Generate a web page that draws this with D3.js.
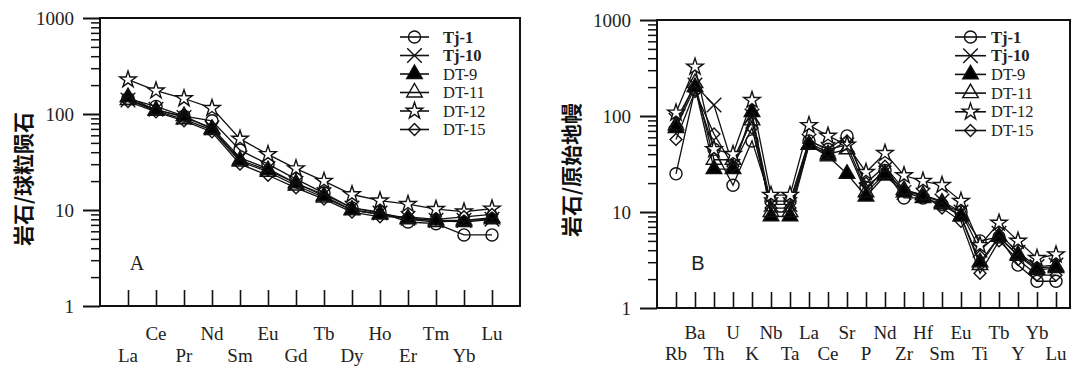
<!DOCTYPE html>
<html>
<head>
<meta charset="utf-8">
<script src="https://cdn.jsdelivr.net/npm/d3@7"></script>
<style>
  html, body { margin: 0; padding: 0; background: #fff; }
  svg { display: block; }
  .tick line { stroke: #111; }
  .num { font-family: "Liberation Serif", "Times New Roman", serif; fill: #222; }
  .cjk { font-family: "Noto Sans CJK SC", sans-serif; font-weight: 700; fill: #111; }
</style>
</head>
<body>
<svg id="chart" width="1078" height="370"></svg>
<script>
// ─── Daten ────────────────────────────────────────────────────────────────────

const samples = ['Tj-1', 'Tj-10', 'DT-9', 'DT-11', 'DT-12', 'DT-15'];
const yTicks  = [1, 10, 100, 1000];

// A: Seltene Erden, chondrit-normiert
const reeElements = ['La', 'Ce', 'Pr', 'Nd', 'Sm', 'Eu', 'Gd', 'Tb', 'Dy', 'Ho', 'Er', 'Tm', 'Yb', 'Lu'];
const reeTj1  = [145, 120, 95, 85, 42, 30, 21, 15, 10.5, 9.5, 7.5, 7.2, 5.5, 5.5];
const reeTj10 = [140, 112, 92, 72, 35, 27, 19, 14.5, 10.5, 9.3, 8.2, 7.8, 7.8, 8.0];
const reeDT9  = [150, 110, 95, 70, 33, 26, 19, 14, 10, 9, 8.2, 7.8, 7.5, 8];
const reeDT11 = [140, 108, 88, 68, 32, 25, 18, 13.5, 10, 9, 8, 7.5, 7.8, 8.3];
const reeDT12 = [228, 175, 145, 115, 55, 38, 27, 20, 14.5, 12.5, 11.5, 10.2, 9.6, 10.3];
const reeDT15 = [135, 105, 85, 65, 30, 23, 17, 13, 9.5, 8.5, 8.5, 8, 8.5, 9];

// B: Spurenelemente, primitiver Mantel
const spiderElements = ['Rb', 'Ba', 'Th', 'U', 'K', 'Nb', 'Ta', 'La', 'Ce', 'Sr', 'P',
                        'Nd', 'Zr', 'Hf', 'Sm', 'Eu', 'Ti', 'Tb', 'Y', 'Yb', 'Lu'];
const spTj1  = [25, 190, 45, 19, 55, 13, 13, 55, 45, 62, 18, 27, 14, 14, 12, 10, 5, 5.5, 2.8, 1.9, 1.9];
const spTj10 = [90, 210, 130, 30, 100, 12, 12, 55, 45, 50, 17, 28, 16, 15, 13, 10, 4, 6, 3.8, 2.7, 2.8];
const spDT9  = [75, 200, 28, 28, 110, 9, 9, 50, 38, 25, 14.5, 24, 16, 14, 12, 9, 3, 5.5, 3.5, 2.5, 2.6];
const spDT11 = [80, 220, 35, 35, 90, 10, 10, 50, 40, 45, 16, 25, 17, 15, 12.5, 9, 2.8, 5.5, 3.6, 2.6, 2.7];
const spDT12 = [108, 325, 45, 40, 146, 15, 15, 80, 62, 50, 26, 41, 24, 21, 19, 13, 4.5, 7.7, 5, 3.3, 3.6];
const spDT15 = [57, 180, 65, 30, 75, 11, 11, 52, 42, 55, 20, 30, 17, 15, 11, 8, 2.3, 5, 3.2, 2.2, 2.2];

// ─── Marker ───────────────────────────────────────────────────────────────────

const markers = {
  'Tj-1':  { path: d3.symbol(d3.symbolCircle, 115)(),   fill: 'none', rot: 0 },
  'Tj-10': { path: d3.symbol(d3.symbolX, 140)(),        fill: 'none', rot: 0 },
  'DT-9':  { path: d3.symbol(d3.symbolTriangle, 105)(), fill: '#000', rot: 0 },
  'DT-11': { path: d3.symbol(d3.symbolTriangle, 105)(), fill: 'none', rot: 0 },
  'DT-12': { path: d3.symbol(d3.symbolStar, 85)(),      fill: '#fff', rot: 0 },
  'DT-15': { path: d3.symbol(d3.symbolSquare, 70)(),    fill: 'none', rot: 45 },
};

const svg = d3.select('#chart');

function drawPanel(cfg) {
  const g = svg.append('g');

  const x = d3.scaleLinear().domain([0, cfg.elements.length - 1]).range([cfg.x0, cfg.x1]);
  const y = d3.scaleLog().domain([1, 1000]).range([cfg.bottom, cfg.top]);

  // Minor-Ticks (nach außen)
  const minor = [];
  [1, 10, 100].forEach(dec => { for (let k = 2; k <= 9; k++) minor.push(k * dec); });
  g.append('g')
    .attr('transform', `translate(${cfg.left},0)`)
    .call(d3.axisLeft(y).tickValues(minor).tickSize(9).tickSizeOuter(0).tickFormat(''))
    .call(a => a.select('.domain').remove())
    .selectAll('line').attr('stroke-width', 1.5);

  // Haupt-Ticks mit Beschriftung
  g.append('g')
    .attr('transform', `translate(${cfg.left},0)`)
    .call(d3.axisLeft(y).tickValues(yTicks).tickSize(17).tickSizeOuter(0)
      .tickPadding(9).tickFormat(d3.format('d')))
    .call(a => a.select('.domain').remove())
    .call(a => a.selectAll('line').attr('stroke-width', 2))
    .call(a => a.selectAll('text')
      .attr('class', 'num').attr('font-size', 19).attr('dy', '0.34em'));

  // Kategorie-Ticks (nach innen)
  g.append('g')
    .attr('transform', `translate(0,${cfg.bottom})`)
    .call(d3.axisBottom(x).tickValues(d3.range(cfg.elements.length))
      .tickSize(-16).tickSizeOuter(0).tickFormat(''))
    .call(a => a.select('.domain').remove())
    .selectAll('line').attr('stroke-width', 1.6);

  // Rahmen
  g.append('rect')
    .attr('x', cfg.left).attr('y', cfg.top)
    .attr('width', cfg.right - cfg.left).attr('height', cfg.bottom - cfg.top)
    .attr('fill', 'none').attr('stroke', '#111').attr('stroke-width', 2);

  // Element-Beschriftung in zwei Reihen
  g.selectAll('text.elem')
    .data(cfg.elements)
    .enter()
    .append('text')
    .attr('class', 'num elem')
    .attr('x', (_d, i) => x(i))
    .attr('y', (_d, i) => i % 2 ? cfg.rowTop : cfg.rowBottom)
    .attr('text-anchor', 'middle')
    .attr('font-size', 19)
    .text(d => d);

  // Linien + Marker je Probe
  const line = d3.line().x((_d, i) => x(i)).y(d => y(d));
  cfg.series.forEach(vals => {
    g.append('path')
      .attr('d', line(vals))
      .attr('fill', 'none')
      .attr('stroke', '#111')
      .attr('stroke-width', 1.3);
  });
  cfg.series.forEach((vals, s) => {
    const m = markers[samples[s]];
    g.selectAll(null)
      .data(vals)
      .enter()
      .append('path')
      .attr('d', m.path)
      .attr('transform', (d, i) => `translate(${x(i)},${y(d)}) rotate(${m.rot})`)
      .attr('fill', m.fill)
      .attr('stroke', '#111')
      .attr('stroke-width', 1.4);
  });

  // Legende
  const leg = g.append('g');
  samples.forEach((name, s) => {
    const ly = cfg.legY + s * cfg.legStep;
    const m = markers[name];
    leg.append('line')
      .attr('x1', cfg.legX0).attr('x2', cfg.legX1)
      .attr('y1', ly).attr('y2', ly)
      .attr('stroke', '#111').attr('stroke-width', 1.6);
    leg.append('path')
      .attr('d', m.path)
      .attr('transform', `translate(${(cfg.legX0 + cfg.legX1) / 2},${ly}) rotate(${m.rot})`)
      .attr('fill', m.fill)
      .attr('stroke', '#111')
      .attr('stroke-width', 1.4);
    leg.append('text')
      .attr('class', 'num')
      .attr('x', cfg.legText).attr('y', ly)
      .attr('dy', '0.34em')
      .attr('font-size', 16.5)
      .attr('font-weight', name.startsWith('Tj') ? 700 : 400)
      .text(name);
  });

  // Panel-Buchstabe
  g.append('text')
    .attr('x', cfg.letterX).attr('y', 270)
    .attr('text-anchor', 'middle')
    .attr('font-family', cfg.letterFont)
    .attr('font-size', 20)
    .attr('fill', '#222')
    .text(cfg.letter);

  // y-Achsentitel
  g.append('text')
    .attr('class', 'cjk')
    .attr('transform', `translate(${cfg.titleX},${cfg.titleY}) rotate(-90)`)
    .attr('text-anchor', 'middle')
    .attr('dy', '0.35em')
    .attr('font-size', 21)
    .text(cfg.title);
}

drawPanel({
  elements: reeElements,
  series: [reeTj1, reeTj10, reeDT9, reeDT11, reeDT12, reeDT15],
  left: 100, right: 520, top: 18, bottom: 306,
  x0: 128, x1: 492,
  rowTop: 340, rowBottom: 362,
  legX0: 400, legX1: 429, legText: 443, legY: 37, legStep: 18.5,
  letter: 'A', letterX: 137, letterFont: '"Liberation Serif", serif',
  title: '岩石/球粒陨石', titleX: 24, titleY: 179,
});

drawPanel({
  elements: spiderElements,
  series: [spTj1, spTj10, spDT9, spDT11, spDT12, spDT15],
  left: 657, right: 1070, top: 20, bottom: 308,
  x0: 676, x1: 1056,
  rowTop: 339, rowBottom: 360,
  legX0: 955, legX1: 986, legText: 991, legY: 37, legStep: 18.7,
  letter: 'B', letterX: 698, letterFont: '"Liberation Sans", sans-serif',
  title: '岩石/原始地幔', titleX: 572, titleY: 170,
});
</script>
</body>
</html>
